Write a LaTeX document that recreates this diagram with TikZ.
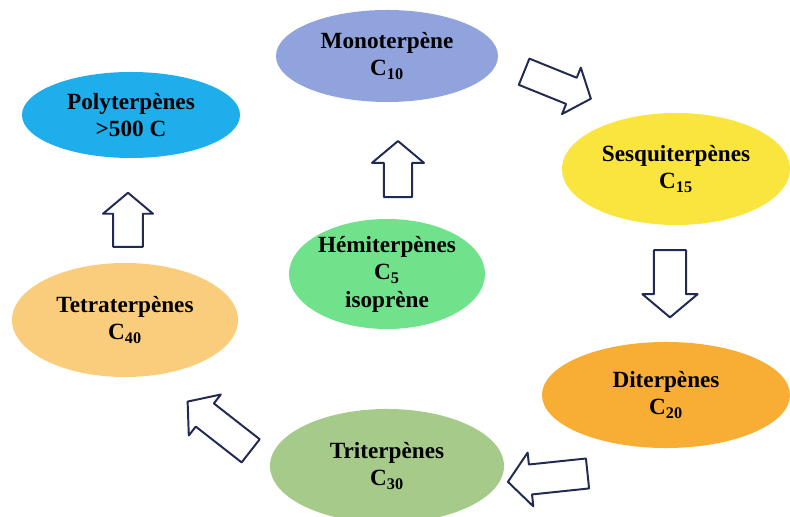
\documentclass[tikz,border=0pt]{standalone}
\usepackage{fontspec}
\setmainfont{Liberation Serif}
\usepackage{tikz}
\usetikzlibrary{shapes.geometric,shapes.arrows}

\definecolor{monoblue}{RGB}{145,163,220}
\definecolor{polyblue}{RGB}{30,174,235}
\definecolor{sesquiyellow}{RGB}{250,228,62}
\definecolor{hemigreen}{RGB}{112,226,140}
\definecolor{tetraorange}{RGB}{250,205,125}
\definecolor{diorange}{RGB}{248,174,52}
\definecolor{trigreen}{RGB}{165,202,138}
\definecolor{arrowline}{RGB}{32,42,82}

\begin{document}
\begin{tikzpicture}[x=0.025cm,y=-0.025cm,
	terpene/.style={ellipse, inner sep=0pt, align=center,
		font=\fontsize{16.5}{19.5}\selectfont\bfseries},
	bigarrow/.style={single arrow, draw=arrowline, fill=white, line width=1.4pt,
		line join=round, inner sep=0pt, single arrow tip angle=100}]

\useasboundingbox (0,0) rectangle (790,517);

% ellipses
\node[terpene, fill=monoblue, minimum width=5.55cm, minimum height=2.3cm]
	(mono) at (387,56) {Monoterpène\\C\textsubscript{10}};
\node[terpene, fill=polyblue, minimum width=5.45cm, minimum height=2.15cm]
	(poly) at (131,115) {Polyterpènes\\>500 C};
\node[terpene, fill=sesquiyellow, minimum width=5.7cm, minimum height=2.8cm]
	(sesqui) at (676,169) {Sesquiterpènes\\C\textsubscript{15}};
\node[terpene, fill=hemigreen, minimum width=4.9cm, minimum height=2.75cm]
	(hemi) at (387,274) {Hémiterpènes\\C\textsubscript{5}\\isoprène};
\node[terpene, fill=tetraorange, minimum width=5.65cm, minimum height=2.85cm]
	(tetra) at (125,320) {Tetraterpènes\\C\textsubscript{40}};
\node[terpene, fill=diorange, minimum width=6.2cm, minimum height=2.65cm]
	(di) at (666,395) {Diterpènes\\C\textsubscript{20}};
\node[terpene, fill=trigreen, minimum width=5.85cm, minimum height=2.85cm]
	(tri) at (387,466) {Triterpènes\\C\textsubscript{30}};

% arrows
\node[bigarrow, rotate=90, minimum height=1.4cm, minimum width=1.3cm, inner ysep=0.275cm]
	(hemi-mono) at (398,175) {};
\node[bigarrow, rotate=-22, minimum height=1.8cm, minimum width=1.25cm, inner ysep=0.3cm]
	(mono-sesqui) at (552,83) {};
\node[bigarrow, rotate=-90, minimum height=1.68cm, minimum width=1.38cm, inner ysep=0.325cm]
	(sesqui-di) at (670,277) {};
\node[bigarrow, rotate=186, minimum height=2.0cm, minimum width=1.35cm, inner ysep=0.29cm]
	(di-tri) at (554,477) {};
\node[bigarrow, rotate=142, minimum height=2.0cm, minimum width=1.3cm, inner ysep=0.3cm]
	(tri-tetra) at (224,430) {};
\node[bigarrow, rotate=90, minimum height=1.35cm, minimum width=1.25cm, inner ysep=0.34cm]
	(tetra-poly) at (128,226) {};

\end{tikzpicture}
\end{document}
